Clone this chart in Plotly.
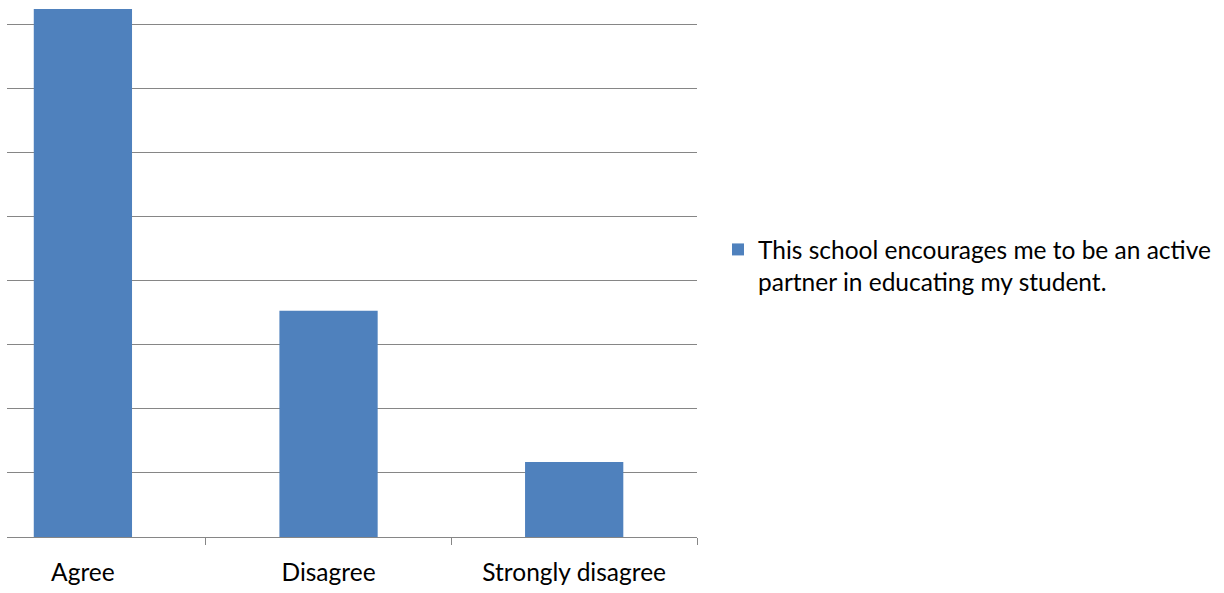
import plotly.graph_objects as go

categories = ["Agree", "Disagree", "Strongly disagree"]
values = [8.24, 3.53, 1.17]
series_name = "This school encourages me to be an active<br>partner in educating my student."

W, H = 1224, 593
fig = go.Figure()
fig.add_trace(go.Bar(
    x=categories, y=values, name=series_name,
    marker=dict(color="#4F81BD", line=dict(width=0)),
    width=0.40, showlegend=True,
))

font_family = "Lato, 'Open Sans', sans-serif"
fig.update_layout(
    width=W, height=H,
    margin=dict(l=7, r=W - 697, t=0, b=H - 537),
    paper_bgcolor="white", plot_bgcolor="white",
    font=dict(family=font_family, size=24.5, color="black"),
    showlegend=True,
    legend=dict(
        xref="container", yref="container",
        x=718 / W, y=1 - 227 / H, xanchor="left", yanchor="top",
        font=dict(size=24.5, color="black", family=font_family),
        itemwidth=30, bgcolor="rgba(0,0,0,0)", valign="top",
    ),
    xaxis=dict(
        type="category", range=[-0.309, 2.5],
        showline=True, linecolor="#868686", linewidth=1,
        ticks="outside", tickson="boundaries", ticklen=7, tickcolor="#868686",
        showgrid=False, tickfont=dict(size=24.5, color="black"),
        ticklabelstandoff=14,
    ),
    yaxis=dict(
        range=[0, 8.38], dtick=1, showticklabels=False,
        showgrid=True, gridcolor="#868686", gridwidth=1,
        zeroline=False, showline=False, ticks="",
    ),
    bargap=0.6,
)

fig.write_html("out.html", config={"displayModeBar": False},
               post_script="document.body.style.margin='0';")
